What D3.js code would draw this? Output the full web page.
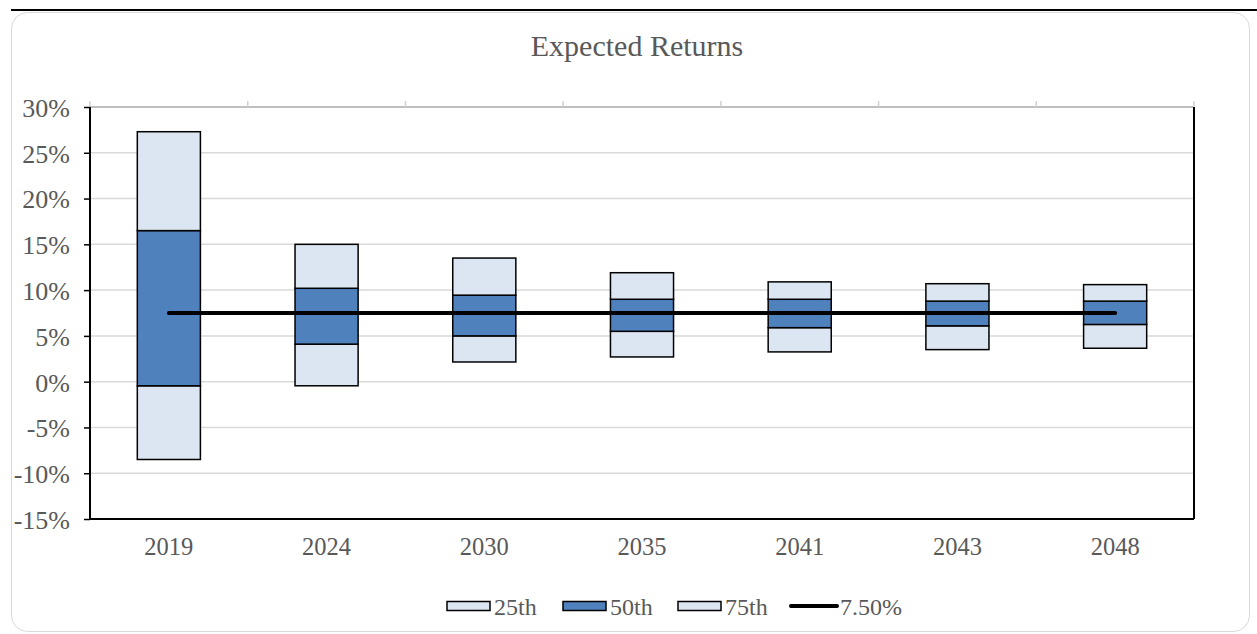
<!DOCTYPE html>
<html>
<head>
<meta charset="utf-8">
<script src="https://cdn.jsdelivr.net/npm/d3@7"></script>
<style>
  body { margin: 0; background: #fff; }
  text { font-family: "Liberation Serif", "DejaVu Serif", serif; fill: #595959; }
</style>
</head>
<body>
<div id="chart"></div>
<script>
// data (percent)
var years = ["2019", "2024", "2030", "2035", "2041", "2043", "2048"];
var boxLow     = [-8.5, -0.45, 2.15, 2.7, 3.25, 3.5, 3.65];
var boxMidLow  = [-0.45, 4.1, 5.0, 5.5, 5.9, 6.1, 6.25];
var boxMidHigh = [16.5, 10.2, 9.45, 9.0, 9.0, 8.8, 8.8];
var boxHigh    = [27.3, 15.0, 13.5, 11.9, 10.9, 10.7, 10.6];
var target = 7.5;
var yTicks = [-15, -10, -5, 0, 5, 10, 15, 20, 25, 30];
var legendNames = ["25th", "50th", "75th", "7.50%"];

var W = 1257, H = 634;
var margin = {top: 107, right: 63, bottom: 115, left: 90},
    width = W - margin.left - margin.right,
    height = H - margin.top - margin.bottom;

var light = "#dce6f2", dark = "#4f81bd";

var svg = d3.select("#chart").append("svg")
    .attr("width", W).attr("height", H);

// outer frame
svg.append("line").attr("x1", 11).attr("x2", W).attr("y1", 10).attr("y2", 10)
    .style("stroke", "#000").style("stroke-width", 2);
svg.append("rect").attr("x", 11.5).attr("y", 12.5).attr("width", 1238).attr("height", 619)
    .attr("rx", 16).style("fill", "none").style("stroke", "#d9d9d9");

svg.append("text").attr("x", 637).attr("y", 56).attr("text-anchor", "middle")
    .style("font-size", "30px").text("Expected Returns");

var g = svg.append("g").attr("transform", "translate(" + margin.left + "," + margin.top + ")");

var x = d3.scaleBand().domain(years).range([0, width]);
var y = d3.scaleLinear().domain([-15, 30]).range([height, 0]);

// gridlines
g.append("g").selectAll("line").data(yTicks).enter().append("line")
    .attr("x1", 0).attr("x2", width)
    .attr("y1", function(d) { return y(d); }).attr("y2", function(d) { return y(d); })
    .style("stroke", function(d) { return d === 30 ? "#bfbfbf" : "#d9d9d9"; })
    .style("stroke-width", function(d) { return d === 30 ? 2 : 1.5; });

// small grey ticks on top line at category boundaries
var bounds = years.map(function(d) { return x(d); }).concat([width]);
g.append("g").selectAll("line").data(bounds).enter().append("line")
    .attr("x1", function(d) { return d; }).attr("x2", function(d) { return d; })
    .attr("y1", y(30)).attr("y2", y(30) - 6)
    .style("stroke", "#d0d0d0").style("stroke-width", 1.5);

// boxes
var bw = x.bandwidth() * 0.4;
var segs = [];
years.forEach(function(yr, i) {
  segs.push({yr: yr, lo: boxLow[i], hi: boxMidLow[i], fill: light});
  segs.push({yr: yr, lo: boxMidLow[i], hi: boxMidHigh[i], fill: dark});
  segs.push({yr: yr, lo: boxMidHigh[i], hi: boxHigh[i], fill: light});
});
g.append("g").selectAll("rect").data(segs).enter().append("rect")
    .attr("x", function(d) { return x(d.yr) + (x.bandwidth() - bw) / 2; })
    .attr("width", bw)
    .attr("y", function(d) { return y(d.hi); })
    .attr("height", function(d) { return y(d.lo) - y(d.hi); })
    .style("fill", function(d) { return d.fill; })
    .style("stroke", "#000").style("stroke-width", 1.5);

// target line
g.append("line")
    .attr("x1", x(years[0]) + x.bandwidth() / 2)
    .attr("x2", x(years[years.length - 1]) + x.bandwidth() / 2)
    .attr("y1", y(target)).attr("y2", y(target))
    .style("stroke", "#000").style("stroke-width", 4).style("stroke-linecap", "round");

// axes
var yAxis = g.append("g").call(d3.axisLeft(y).tickValues(yTicks).tickSize(6)
    .tickFormat(function(d) { return d + "%"; }));
yAxis.select(".domain").style("stroke", "#000").style("stroke-width", 2)
    .attr("d", "M0," + height + "V0");
yAxis.selectAll(".tick line").style("stroke", "#000").style("stroke-width", 1.5);
yAxis.selectAll(".tick text").attr("x", -20).attr("dy", "0.36em")
    .style("font-size", "26px").style("font-family", "Liberation Serif").style("fill", "#595959");

var xAxis = g.append("g").attr("transform", "translate(0," + height + ")")
    .call(d3.axisBottom(x).tickSize(0));
xAxis.select(".domain").style("stroke", "#000").style("stroke-width", 2)
    .attr("d", "M0,0H" + width);
xAxis.selectAll(".tick text").attr("y", 19).attr("dy", "0.71em")
    .style("font-size", "24.5px").style("font-family", "Liberation Serif").style("fill", "#595959");

g.append("line").attr("x1", width).attr("x2", width).attr("y1", 0).attr("y2", height)
    .style("stroke", "#000").style("stroke-width", 2);

// legend
var legX = [447, 563, 678, 790];
var legFill = [light, dark, light, null];
var leg = svg.append("g").selectAll("g").data(legendNames).enter().append("g")
    .attr("transform", function(d, i) { return "translate(" + legX[i] + ",606)"; });
leg.each(function(d, i) {
  var s = d3.select(this);
  if (legFill[i]) {
    s.append("rect").attr("x", 0).attr("y", -4.5).attr("width", 43).attr("height", 9)
      .style("fill", legFill[i]).style("stroke", "#000").style("stroke-width", 1.5);
    s.append("text").attr("x", 47).attr("y", 9).style("font-size", "24px").text(d);
  } else {
    s.append("line").attr("x1", 1).attr("x2", 47).attr("y1", 0).attr("y2", 0)
      .style("stroke", "#000").style("stroke-width", 4).style("stroke-linecap", "round");
    s.append("text").attr("x", 50).attr("y", 9).style("font-size", "24px").text(d);
  }
});
</script>
</body>
</html>
